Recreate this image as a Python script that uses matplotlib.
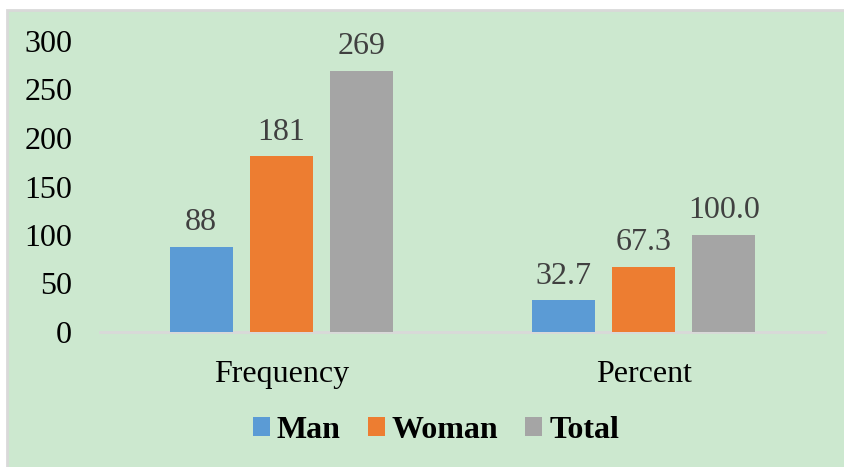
import matplotlib.pyplot as plt
import numpy as np
from matplotlib.patches import Rectangle

plt.rcParams["font.family"] = ["Liberation Serif", "DejaVu Serif"]

BG = "#CCE8CF"
COLORS = ["#5B9BD5", "#ED7D31", "#A5A5A5"]

categories = ["Frequency", "Percent"]
series = ["Man", "Woman", "Total"]
man = [88, 32.7]
woman = [181, 67.3]
total = [269, 100.0]
label_fmt = ["{:.0f}", "{:.1f}"]
yticks = [0, 50, 100, 150, 200, 250, 300]

fig = plt.figure(figsize=(8.44, 4.67), dpi=100, facecolor="white")

# green chart area with thin grey frame
fig.patches.append(Rectangle((7 / 844, -0.01), 1.0, 1 - 10 / 467 + 0.01,
                             transform=fig.transFigure, facecolor=BG,
                             edgecolor="#D9D9D9", lw=2, zorder=-5))

ax = fig.add_axes([100 / 844, 1 - 332 / 467, 725 / 844, 291 / 467])
ax.set_facecolor("none")

x = np.arange(len(categories))
step = 0.2207
width = 0.174
for i, (name, vals) in enumerate(zip(series, [man, woman, total])):
    pos = x + (i - 1) * step
    ax.bar(pos, vals, width=width, color=COLORS[i], label=name, zorder=3)
    for px, v, fmt in zip(pos, vals, label_fmt):
        ax.text(px, v + 10, fmt.format(v), ha="center", va="bottom",
                fontsize=23, color="#404040")

ax.set_xlim(-0.5, 1.5)
ax.set_ylim(0, 300)
ax.set_yticks(yticks)
ax.set_xticks(x)
ax.set_xticklabels(categories)
ax.tick_params(axis="both", length=0, labelsize=23, colors="black")
ax.tick_params(axis="y", pad=20)
ax.tick_params(axis="x", pad=20)
for s in ["top", "right", "left"]:
    ax.spines[s].set_visible(False)
ax.spines["bottom"].set_color("#D9D9D9")
ax.spines["bottom"].set_linewidth(2)

fig.legend(loc="center", bbox_to_anchor=(436 / 844, 1 - 430 / 467), ncol=3,
           frameon=False, prop={"weight": "bold", "size": 23},
           handlelength=0.53, handleheight=0.53, handletextpad=0.22,
           columnspacing=0.85)

fig.savefig("out.png", dpi=100, facecolor="white")
